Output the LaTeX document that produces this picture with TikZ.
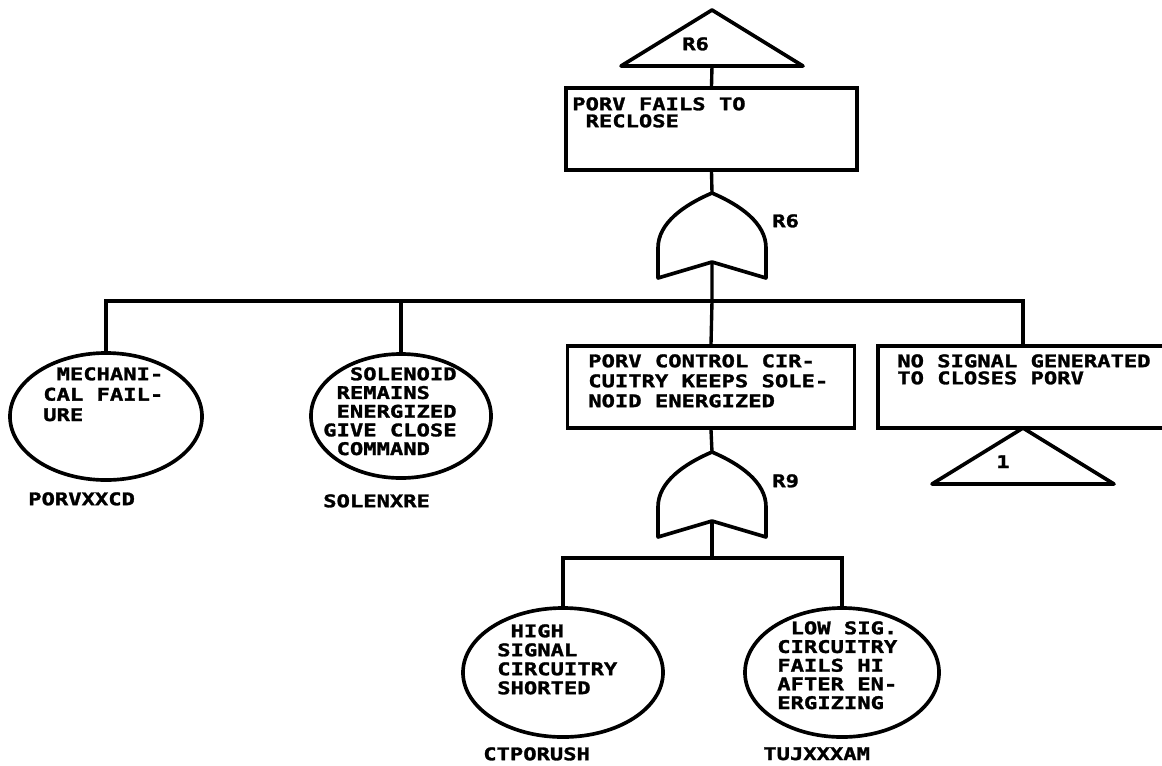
\documentclass[tikz,border=0pt]{standalone}
\usepackage{fontspec}
\newfontfamily\dotfont[FakeStretch=1.27, FakeBold=1.6]{DejaVu Sans Mono}
\usepackage{tikz}
\usetikzlibrary{shapes.geometric, calc}
\tikzset{
  orgate/.pic={
    \draw[line width=2.6pt, line join=round] (-54,85) -- (-54,55)
      .. controls (-54,30) and (-28,12) .. (0,0)
      .. controls (28,12) and (54,30) .. (54,55) -- (54,85) -- (0,69) -- cycle;
    \coordinate (-top) at (0,0);
    \coordinate (-out) at (0,69);
  },
  transfer/.pic={
    \draw[line width=2.6pt, line join=round] (0,0) -- (91,56) -- (-91,56) -- cycle;
    \coordinate (-top) at (0,0);
    \coordinate (-base) at (0,56);
  }
}

\begin{document}
\begin{tikzpicture}[
  x=0.025cm, y=-0.025cm,
  event/.style={draw, rectangle, line width=2.6pt, minimum height=2.05cm},
  basic/.style={draw, ellipse, line width=2.6pt},
  txt/.style={font=\dotfont\bfseries\fontsize{12.4pt}{#1}\selectfont,
               inner sep=0pt, anchor=north west, align=left},
  txt/.default=13.5pt,
  conn/.style={line width=2.4pt}
]
  \useasboundingbox (0,0) rectangle (1162,765);
  \pic (t0) at (712,10) {transfer};
  \node[txt] (t0t) at (682,37) {R6};
  \node[event, minimum width=7.275cm] (b1) at (711.5,129) {};
  \node[txt=12.1pt] (b1t) at (572,97) {PORV FAILS TO\\~RECLOSE};
  \pic (g1) at (712,193) {orgate};
  \node[txt] (g1t) at (772,214) {R6};
  \coordinate (bus1) at (712,301);
  \node[basic, minimum width=4.8cm, minimum height=3.175cm] (e1) at (106,416.5) {};
  \node[txt=14.5pt] (e1t) at (43,367) {~MECHANI-\\CAL FAIL-\\URE};
  \node[txt] (e1n) at (28,492) {PORVXXCD};
  \node[basic, minimum width=4.5cm, minimum height=3.1cm] (e2) at (401,416) {};
  \node[txt=13.3pt] (e2t) at (323,367) {~~SOLENOID\\~REMAINS\\~ENERGIZED\\GIVE CLOSE\\~COMMAND};
  \node[txt] (e2n) at (323,494) {SOLENXRE};
  \node[event, minimum width=7.175cm] (b2) at (711,387) {};
  \node[txt=14.2pt] (b2t) at (588,354) {PORV CONTROL CIR-\\CUITRY KEEPS SOLE-\\NOID ENERGIZED};
  \node[event, minimum width=7.25cm] (b3) at (1023,387) {};
  \node[txt=12.1pt] (b3t) at (897,354) {NO SIGNAL GENERATED\\TO CLOSES PORV};
  \pic (t1) at (1023,428) {transfer};
  \node[txt] (t1t) at (996,455) {1};
  \pic (g2) at (712,452) {orgate};
  \node[txt] (g2t) at (772,474) {R9};
  \coordinate (bus2) at (712,558);
  \node[basic, minimum width=5cm, minimum height=3.225cm] (e3) at (563,672.5) {};
  \node[txt] (e3t) at (497,624) {~HIGH\\SIGNAL\\CIRCUITRY\\SHORTED};
  \node[txt] (e3n) at (483,747) {CTPORUSH};
  \node[basic, minimum width=4.85cm, minimum height=3.225cm] (e4) at (842,672.5) {};
  \node[txt=13.3pt] (e4t) at (777,621) {~LOW SIG.\\CIRCUITRY\\FAILS HI\\AFTER EN-\\ERGIZING};
  \node[txt] (e4n) at (763,747) {TUJXXXAM};
  \draw[conn] (t0-base) -- (b1.north);
  \draw[conn] (b1.south) -- (g1-top);
  \draw[conn] (g1-out) -- (bus1) -- (b2.north);
  \draw[conn] (e1.north) |- (bus1) -| (b3.north);
  \draw[conn] (e2.north) -- (e2.north |- bus1);
  \draw[conn] (b2.south) -- (g2-top);
  \draw[conn] (g2-out) -- (bus2);
  \draw[conn] (e3.north) |- (bus2) -| (e4.north);
\end{tikzpicture}
\end{document}
